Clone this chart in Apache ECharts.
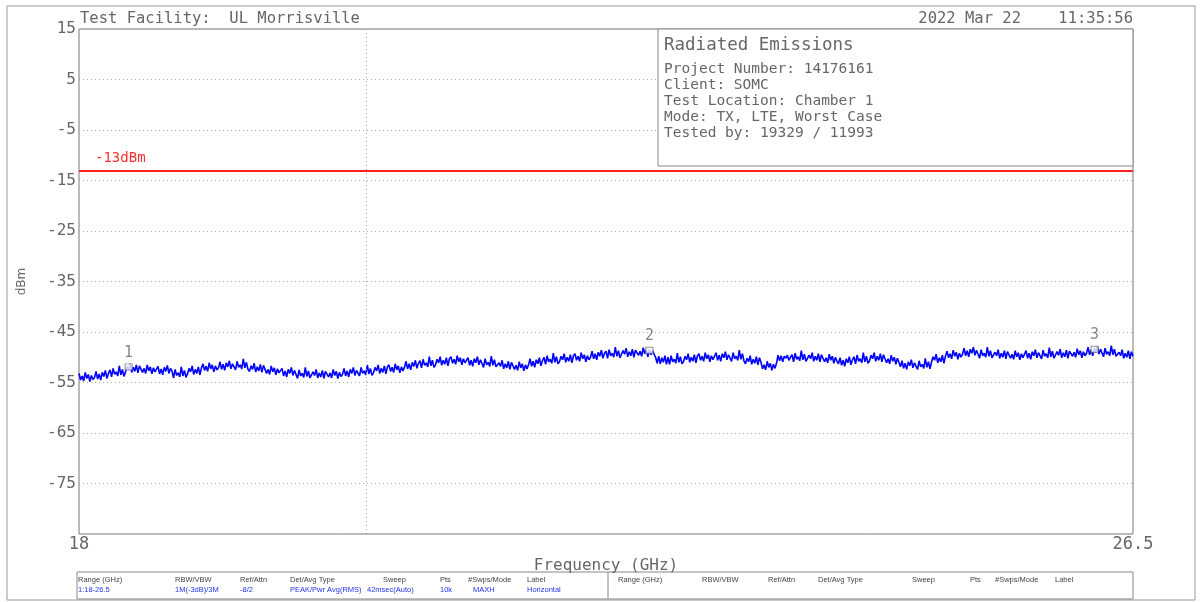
<!DOCTYPE html>
<html><head><meta charset="utf-8">
<script src="https://cdn.jsdelivr.net/npm/echarts@6/dist/echarts.min.js"></script>
<style>html,body{margin:0;padding:0;background:#fff;}#c{width:1200px;height:602px;}</style>
</head><body><div id="c"></div>
<script>
const freqStart = 18, freqStep = 0.0125;
const levels = [
-53.2,-54.5,-53.7,-54.7,-53.0,-54.2,-53.4,-54.8,-53.6,-54.4,
-54.0,-52.8,-54.3,-53.3,-54.5,-53.0,-53.8,-52.6,-54.2,-53.2,
-52.5,-53.9,-52.2,-53.4,-52.9,-53.7,-51.7,-53.5,-52.4,-53.8,
-52.9,-51.8,-52.5,-51.3,-53.0,-52.0,-52.8,-51.5,-53.1,-51.7,
-51.7,-53.0,-52.2,-53.2,-51.5,-52.7,-51.9,-53.3,-52.1,-52.9,
-53.0,-51.8,-53.3,-52.3,-53.5,-52.0,-52.8,-51.6,-53.2,-52.2,
-52.7,-54.1,-52.4,-53.6,-53.1,-53.9,-51.9,-53.7,-52.6,-54.0,
-53.3,-52.2,-52.9,-51.7,-53.4,-52.4,-53.2,-51.9,-53.5,-52.1,
-51.3,-52.6,-51.8,-52.8,-51.1,-52.3,-51.5,-52.9,-51.7,-52.5,
-52.1,-50.9,-52.4,-51.4,-52.6,-51.1,-51.9,-50.7,-52.3,-51.3,
-51.1,-52.5,-50.8,-52.0,-51.5,-52.3,-50.3,-52.1,-51.0,-52.4,
-52.8,-51.7,-52.4,-51.2,-52.9,-51.9,-52.7,-51.4,-53.0,-51.6,
-51.9,-53.2,-52.4,-53.4,-51.7,-52.9,-52.1,-53.5,-52.3,-53.1,
-53.4,-52.2,-53.7,-52.7,-53.9,-52.4,-53.2,-52.0,-53.6,-52.6,
-52.8,-54.2,-52.5,-53.7,-53.2,-54.0,-52.0,-53.8,-52.7,-54.1,
-54.0,-52.9,-53.6,-52.4,-54.1,-53.1,-53.9,-52.6,-54.2,-52.8,
-52.6,-53.9,-53.1,-54.1,-52.4,-53.6,-52.8,-54.2,-53.0,-53.8,
-53.4,-52.2,-53.7,-52.7,-53.9,-52.4,-53.2,-52.0,-53.6,-52.6,
-52.3,-53.7,-52.0,-53.2,-52.7,-53.5,-51.5,-53.3,-52.2,-53.6,
-53.1,-52.0,-52.7,-51.5,-53.2,-52.2,-53.0,-51.7,-53.3,-51.9,
-51.5,-52.8,-52.0,-53.0,-51.3,-52.5,-51.7,-53.1,-51.9,-52.7,
-52.0,-50.8,-52.3,-51.3,-52.5,-51.0,-51.8,-50.6,-52.2,-51.2,
-50.7,-52.1,-50.4,-51.6,-51.1,-51.9,-49.9,-51.7,-50.6,-52.0,
-51.5,-50.4,-51.1,-49.9,-51.6,-50.6,-51.4,-50.1,-51.7,-50.3,
-49.9,-51.2,-50.4,-51.4,-49.7,-50.9,-50.1,-51.5,-50.3,-51.1,
-51.3,-50.1,-51.6,-50.6,-51.8,-50.3,-51.1,-49.9,-51.5,-50.5,
-50.6,-52.0,-50.3,-51.5,-51.0,-51.8,-49.8,-51.6,-50.5,-51.9,
-52.2,-51.1,-51.8,-50.6,-52.3,-51.3,-52.1,-50.8,-52.4,-51.0,
-51.1,-52.4,-51.6,-52.6,-50.9,-52.1,-51.3,-52.7,-51.5,-52.3,
-51.5,-50.3,-51.8,-50.8,-52.0,-50.5,-51.3,-50.1,-51.7,-50.7,
-50.0,-51.4,-49.7,-50.9,-50.4,-51.2,-49.2,-51.0,-49.9,-51.3,
-50.9,-49.8,-50.5,-49.3,-51.0,-50.0,-50.8,-49.5,-51.1,-49.7,
-49.3,-50.6,-49.8,-50.8,-49.1,-50.3,-49.5,-50.9,-49.7,-50.5,
-50.0,-48.8,-50.3,-49.3,-50.5,-49.0,-49.8,-48.6,-50.2,-49.2,
-48.8,-50.2,-48.5,-49.7,-49.2,-50.0,-48.0,-49.8,-48.7,-50.1,
-49.8,-48.7,-49.4,-48.2,-49.9,-48.9,-49.7,-48.4,-50.0,-48.6,
-48.3,-49.6,-48.8,-49.8,-48.1,-49.3,-48.5,-49.9,-48.4,-49.5,
-48.6,-49.4,-50.0,-51.2,-49.8,-51.3,-50.1,-51.0,-49.7,-51.4,
-50.0,-51.4,-49.7,-50.9,-50.4,-51.2,-49.2,-51.0,-49.9,-51.3,
-50.9,-49.8,-50.5,-49.3,-51.0,-50.0,-50.8,-49.5,-51.1,-49.7,
-49.3,-50.6,-49.8,-50.8,-49.1,-50.3,-49.5,-50.9,-49.7,-50.5,
-50.3,-49.1,-50.6,-49.6,-50.8,-49.3,-50.1,-48.9,-50.5,-49.5,
-49.4,-50.8,-49.1,-50.3,-49.8,-50.6,-48.6,-50.4,-49.3,-50.7,
-51.3,-50.2,-50.9,-49.7,-51.4,-50.4,-51.2,-49.9,-51.5,-50.1,
-51.0,-52.3,-51.5,-52.5,-50.8,-52.0,-51.2,-52.6,-51.4,-52.2,
-51.2,-49.6,-50.7,-49.7,-50.9,-49.8,-50.2,-49.6,-50.6,-50.0,
-49.5,-50.9,-49.2,-50.4,-49.9,-50.7,-48.7,-50.5,-49.4,-50.8,
-50.7,-49.6,-50.3,-49.1,-50.8,-49.8,-50.6,-49.3,-50.9,-49.5,
-49.6,-50.9,-50.1,-51.1,-49.4,-50.6,-49.8,-51.2,-50.0,-50.8,
-51.3,-50.1,-51.6,-50.6,-51.8,-50.3,-51.1,-49.9,-51.5,-50.5,
-49.9,-51.3,-49.6,-50.8,-50.3,-51.1,-49.1,-50.9,-49.8,-51.2,
-50.7,-49.6,-50.3,-49.1,-50.8,-49.8,-50.6,-49.3,-50.9,-49.5,
-49.8,-51.1,-50.3,-51.3,-49.6,-50.8,-50.0,-51.4,-50.2,-51.0,
-51.9,-50.7,-52.2,-51.2,-52.4,-50.9,-51.7,-50.5,-52.1,-51.1,
-51.0,-52.4,-50.7,-51.9,-51.4,-52.2,-50.2,-52.0,-50.9,-52.3,
-51.0,-49.9,-50.6,-49.4,-51.1,-50.1,-50.9,-49.6,-51.2,-49.8,
-48.8,-50.1,-49.3,-50.3,-48.6,-49.8,-49.0,-50.4,-49.2,-50.0,
-49.4,-48.2,-49.7,-48.7,-49.9,-48.4,-49.2,-48.0,-49.6,-48.6,
-48.8,-50.2,-48.5,-49.7,-49.2,-50.0,-48.0,-49.8,-48.7,-50.1,
-50.1,-49.0,-49.7,-48.5,-50.2,-49.2,-50.0,-48.7,-50.3,-48.9,
-48.9,-50.2,-49.4,-50.4,-48.7,-49.9,-49.1,-50.5,-49.3,-50.1,
-49.9,-48.7,-50.2,-49.2,-50.4,-48.9,-49.7,-48.5,-50.1,-49.1,
-48.9,-50.3,-48.6,-49.8,-49.3,-50.1,-48.1,-49.9,-48.8,-50.2,
-50.0,-48.9,-49.6,-48.4,-50.1,-49.1,-49.9,-48.6,-50.2,-48.8,
-48.5,-49.8,-49.0,-50.0,-48.3,-49.5,-48.7,-50.1,-48.9,-49.7,
-49.2,-48.0,-49.5,-48.5,-49.7,-48.2,-49.0,-47.8,-49.4,-48.4,
-48.5,-49.9,-48.2,-49.4,-48.9,-49.7,-47.7,-49.5,-48.4,-49.8,
-50.1,-49.0,-49.7,-48.5,-50.2,-49.2,-50.0,-48.7,-50.3,-48.9,
-49.8
];
const yTicks = [15, 5, -5, -15, -25, -35, -45, -55, -65, -75];
const xTickLabels = [18, 26.5];
const vGridFreqs = [20.32];
const limitLevel = -13;
const limitLabel = '-13dBm';
const markerFreqs = [18.40, 22.60, 26.19];
const markerLevels = [-51.9, -48.6, -48.4];
const markerNames = ['1', '2', '3'];
const titleLeft = 'Test Facility:  UL Morrisville';
const titleRight = '2022 Mar 22    11:35:56';
const infoTitle = 'Radiated Emissions';
const infoLines = ['Project Number: 14176161', 'Client: SOMC', 'Test Location: Chamber 1', 'Mode: TX, LTE, Worst Case', 'Tested by: 19329 / 11993'];
const tableHeaders = ['Range (GHz)', 'RBW/VBW', 'Ref/Attn', 'Det/Avg Type', 'Sweep', 'Pts', '#Swps/Mode', 'Label'];
const tableValues = ['1:18-26.5', '1M(-3dB)/3M', '-8/2', 'PEAK/Pwr Avg(RMS)', '42msec(Auto)', '10k', 'MAXH', 'Horizontal'];

const traceData = levels.map((v, i) => [freqStart + i * freqStep, v]);
const markerData = markerFreqs.map((f, i) => ({ value: [f, markerLevels[i]], name: markerNames[i] }));

const MONO = '"DejaVu Sans Mono", monospace';
const GRAY = '#666';

const leftCols = [78, 175, 240, 290, 383, 440, 468, 527];
const leftValCols = [78, 175, 240, 290, 367, 440, 473, 527];
const rightCols = [618, 702, 768, 818, 912, 970, 995, 1055];

const graphics = [
  { type: 'rect', shape: { x: 7, y: 6, width: 1188, height: 594 }, style: { fill: 'none', stroke: '#999', lineWidth: 1 }, z: 0 },
  { type: 'text', x: 80, y: 19, style: { text: titleLeft, font: '15.5px ' + MONO, fill: GRAY, textVerticalAlign: 'middle' } },
  { type: 'text', x: 1133, y: 19, style: { text: titleRight, font: '15.5px ' + MONO, fill: GRAY, textAlign: 'right', textVerticalAlign: 'middle' } },
  { type: 'rect', shape: { x: 658, y: 29, width: 475, height: 137 }, style: { fill: '#fff', stroke: '#888', lineWidth: 1 }, z: 10 },
  { type: 'text', x: 664, y: 45, z: 11, style: { text: infoTitle, font: '17.5px ' + MONO, fill: GRAY, textVerticalAlign: 'middle' } },
  { type: 'rect', shape: { x: 77, y: 572, width: 1056, height: 27 }, style: { fill: '#fff', stroke: '#888', lineWidth: 1 } },
  { type: 'line', shape: { x1: 608, y1: 572, x2: 608, y2: 599 }, style: { stroke: '#888', lineWidth: 1 } }
];
infoLines.forEach((t, i) => graphics.push({ type: 'text', x: 664, y: 69 + i * 16, z: 11, style: { text: t, font: '14.5px ' + MONO, fill: GRAY, textVerticalAlign: 'middle' } }));
tableHeaders.forEach((t, i) => {
  graphics.push({ type: 'text', x: leftCols[i], y: 580, style: { text: t, font: '7.5px "Liberation Sans"', fill: '#444', textVerticalAlign: 'middle' } });
  graphics.push({ type: 'text', x: rightCols[i], y: 580, style: { text: t, font: '7.5px "Liberation Sans"', fill: '#444', textVerticalAlign: 'middle' } });
});
tableValues.forEach((t, i) => graphics.push({ type: 'text', x: leftValCols[i], y: 590, style: { text: t, font: '7.5px "Liberation Sans"', fill: '#2233ee', textVerticalAlign: 'middle' } }));

const chart = echarts.init(document.getElementById('c'), null, { renderer: 'canvas' });
chart.setOption({
  animation: false,
  backgroundColor: '#fff',
  grid: { left: 79, right: 67, top: 29, bottom: 68, show: true, borderColor: '#777', borderWidth: 1, backgroundColor: 'transparent' },
  xAxis: {
    type: 'value', min: 18, max: 26.5,
    name: 'Frequency (GHz)', nameLocation: 'middle', nameGap: 23,
    nameTextStyle: { fontFamily: MONO, fontSize: 16, color: GRAY },
    axisLine: { show: false }, axisTick: { show: false }, splitLine: { show: false },
    axisLabel: { customValues: xTickLabels, fontFamily: MONO, fontSize: 17, color: GRAY, margin: 2, formatter: v => String(v) }
  },
  yAxis: {
    type: 'value', min: -85, max: 15,
    name: 'dBm', nameLocation: 'middle', nameGap: 51,
    nameTextStyle: { fontFamily: '"DejaVu Sans"', fontSize: 12, color: GRAY },
    axisLine: { show: false }, axisTick: { show: false }, splitLine: { show: false },
    axisLabel: { show: false }
  },
  graphic: graphics,
  series: [
    {
      name: 'grid', type: 'line', data: [], z: 1, silent: true,
      markLine: {
        silent: true, symbol: 'none', animation: false,
        lineStyle: { color: '#aaa', type: [1, 3], width: 1 },
        label: { show: true, position: 'start', distance: 3, formatter: p => String(p.value), fontFamily: MONO, fontSize: 16, color: GRAY },
        data: yTicks.map(v => ({ yAxis: v })).concat(vGridFreqs.map(f => ({ xAxis: f, label: { show: false } })))
      }
    },
    {
      name: 'trace', type: 'line', data: traceData, z: 3, symbol: 'none', showSymbol: false,
      lineStyle: { color: '#0000ff', width: 1.6 }, sampling: null
    },
    {
      name: 'limit', type: 'line', data: [], z: 4,
      markLine: {
        silent: true, symbol: 'none', animation: false,
        lineStyle: { color: '#ff2020', type: 'solid', width: 2 },
        label: { show: true, position: 'insideStartTop', distance: [16, 5], formatter: limitLabel, fontFamily: MONO, fontSize: 14, color: '#ff3030' },
        data: [{ yAxis: limitLevel }]
      }
    },
    {
      name: 'markers', type: 'scatter', data: markerData, z: 5,
      symbol: 'rect', symbolSize: [7, 6],
      itemStyle: { color: '#fff', borderColor: '#777', borderWidth: 1 },
      label: { show: true, position: 'top', distance: 3, formatter: p => p.name, fontFamily: MONO, fontSize: 15, color: GRAY }
    }
  ]
});
</script></body></html>
